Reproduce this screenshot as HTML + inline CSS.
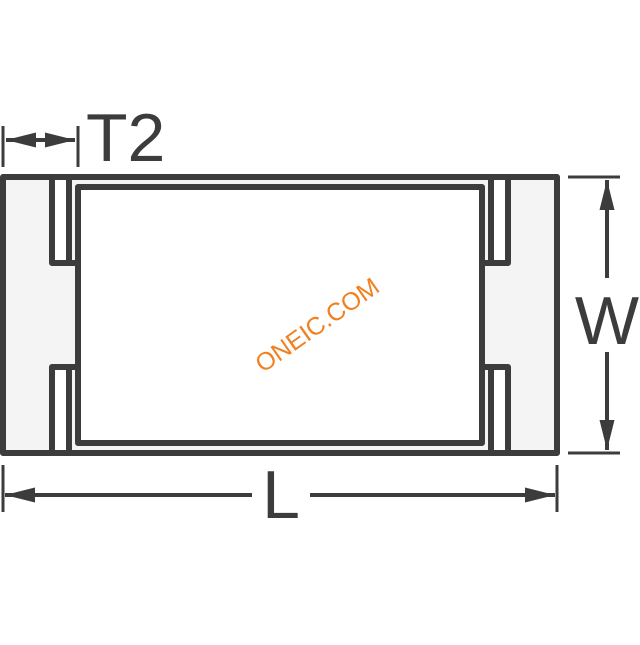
<!DOCTYPE html>
<html><head><style>body{margin:0;background:#fff}</style></head><body>
<svg width="640" height="640" viewBox="0 0 640 640" xmlns="http://www.w3.org/2000/svg">
<defs>
<marker id="b" viewBox="0 0 10 10" refX="10" refY="5" markerWidth="30" markerHeight="15" markerUnits="userSpaceOnUse" orient="auto-start-reverse" preserveAspectRatio="none"><path d="M0,0L10,5L0,10z" fill="#3c3c3c"/></marker>
</defs>
<g stroke="#3c3c3c" stroke-width="6" fill="none" stroke-linejoin="round">
<rect x="3" y="177" width="554" height="276" fill="#f4f4f5"/>
<rect x="78" y="187" width="404" height="256" fill="#fff"/>
<line x1="78" y1="177" x2="482" y2="177"/>
<line x1="78" y1="453" x2="482" y2="453"/>
<line x1="69" y1="177" x2="69" y2="263"/>
<line x1="69" y1="367" x2="69" y2="453"/>
<rect x="55" y="180" width="11" height="80" fill="#fff" stroke="none"/>
<rect x="55" y="370" width="11" height="80" fill="#fff" stroke="none"/>
<path d="M52 177V263H78M52 453V367H78"/>
<rect x="494" y="180" width="11" height="80" fill="#fff" stroke="none"/>
<rect x="494" y="370" width="11" height="80" fill="#fff" stroke="none"/>
<path d="M508 177V263H482M508 453V367H482"/>
<line x1="491" y1="177" x2="491" y2="263"/>
<line x1="491" y1="367" x2="491" y2="453"/>
</g>
<g stroke="#3c3c3c" stroke-width="3">
<line x1="3" y1="126" x2="3" y2="167"/>
<line x1="78" y1="126" x2="78" y2="167"/>
<line x1="6" y1="140" x2="75" y2="140" stroke-width="4" marker-start="url(#b)" marker-end="url(#b)"/>
<line x1="568" y1="177" x2="620" y2="177"/>
<line x1="568" y1="453" x2="620" y2="453"/>
<line x1="607" y1="180" x2="607" y2="278" stroke-width="4" marker-start="url(#b)"/>
<line x1="607" y1="352" x2="607" y2="450" stroke-width="4" marker-end="url(#b)"/>
<line x1="3" y1="465" x2="3" y2="512"/>
<line x1="557" y1="465" x2="557" y2="512"/>
<line x1="5" y1="495" x2="252" y2="495" stroke-width="4" marker-start="url(#b)"/>
<line x1="310" y1="495" x2="555" y2="495" stroke-width="4" marker-end="url(#b)"/>
</g>
<g fill="#3c3c3c" font-family="Liberation Sans, sans-serif" font-size="68">
<text x="86" y="161">T2</text>
<text x="607" y="344" text-anchor="middle">W</text>
<text x="281" y="518" text-anchor="middle">L</text>
</g>
<text x="0" y="0" transform="translate(322,332) rotate(-35)" text-anchor="middle" font-family="Liberation Sans, sans-serif" font-size="25" fill="#f08020">ONEIC.COM</text>
</svg>
</body></html>
